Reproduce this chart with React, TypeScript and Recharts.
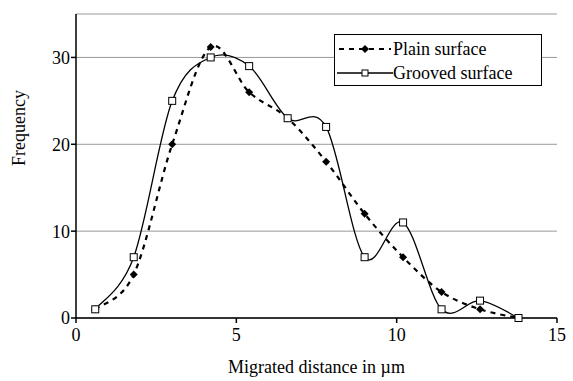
import { LineChart, Line, XAxis, YAxis, CartesianGrid } from 'recharts'

const distances = [0.6, 1.8, 3.0, 4.2, 5.4, 6.6, 7.8, 9.0, 10.2, 11.4, 12.6, 13.8]
const plainSurface = [1, 5, 20, 31.2, 26, 23, 18, 12, 7, 3, 1, 0]
const groovedSurface = [1, 7, 25, 30, 29, 23, 22, 7, 11, 1, 2, 0]
const xTicks = [0, 5, 10, 15]
const yTicks = [0, 10, 20, 30]

const data = distances.map((x, i) => ({ x, plain: plainSurface[i], grooved: groovedSurface[i] }))

const font = 'Liberation Serif, Times New Roman, DejaVu Serif, serif'

// excel-style smoothing (uniform catmull-rom)
// eslint-disable-next-line @typescript-eslint/no-explicit-any
const smooth = (ctx: any) => {
  let pts: [number, number][] = []
  return {
    areaStart() {},
    areaEnd() {},
    lineStart() { pts = [] },
    point(x: number, y: number) { pts.push([+x, +y]) },
    lineEnd() {
      const n = pts.length
      if (!n) return
      ctx.moveTo(pts[0][0], pts[0][1])
      for (let i = 0; i < n - 1; i++) {
        const p0 = pts[Math.max(i - 1, 0)]
        const p1 = pts[i]
        const p2 = pts[i + 1]
        const p3 = pts[Math.min(i + 2, n - 1)]
        ctx.bezierCurveTo(
          p1[0] + (p2[0] - p0[0]) / 6, p1[1] + (p2[1] - p0[1]) / 6,
          p2[0] - (p3[0] - p1[0]) / 6, p2[1] - (p3[1] - p1[1]) / 6,
          p2[0], p2[1],
        )
      }
    },
  }
}

// eslint-disable-next-line @typescript-eslint/no-explicit-any
const Diamond = (p: any) => {
  const { cx, cy } = p
  if (cx == null || cy == null) return <g key={p.key} />
  return <path key={p.key} d={`M${cx},${cy - 4}L${cx + 4},${cy}L${cx},${cy + 4}L${cx - 4},${cy}Z`} fill="#000" />
}

// eslint-disable-next-line @typescript-eslint/no-explicit-any
const Square = (p: any) => {
  const { cx, cy } = p
  if (cx == null || cy == null) return <g key={p.key} />
  return <rect key={p.key} x={cx - 3.5} y={cy - 3.5} width={7} height={7} fill="#fff" stroke="#000" strokeWidth={1} />
}

function LegendBox() {
  return (
    <div style={{
      position: 'absolute', left: 334, top: 34,
      border: '1px solid #000', background: '#fff', width: 208, height: 52,
      boxSizing: 'border-box', fontFamily: font, fontSize: 18, color: '#000', padding: '2px 0 0 2px',
    }}>
      <div style={{ display: 'flex', alignItems: 'center', height: 24 }}>
        <svg width={56} height={12}>
          <line x1={2} y1={6} x2={54} y2={6} stroke="#000" strokeWidth={2} strokeDasharray="5 5" />
          <path d="M28,2L32,6L28,10L24,6Z" fill="#000" />
        </svg>
        <span>Plain surface</span>
      </div>
      <div style={{ display: 'flex', alignItems: 'center', height: 24 }}>
        <svg width={56} height={12}>
          <line x1={0} y1={6} x2={56} y2={6} stroke="#000" strokeWidth={1.3} />
          <rect x={25} y={3} width={6} height={6} fill="#fff" stroke="#000" />
        </svg>
        <span>Grooved surface</span>
      </div>
    </div>
  )
}

export default function App() {
  return (
    <div style={{ position: 'absolute', left: 0, top: 0, background: '#fff', fontFamily: font }}>
      <LineChart width={573} height={381} data={data} margin={{ top: 14, right: 16, left: 0, bottom: 0 }}>
        <CartesianGrid horizontal vertical={false} stroke="#999" strokeWidth={1} />
        <XAxis
          dataKey="x" type="number" domain={[0, 15]} ticks={xTicks}
          height={63} stroke="#000" strokeWidth={1.5}
          tickSize={5} tickMargin={5} tick={{ fontSize: 18, fill: '#000', fontFamily: font }}
          label={{ value: 'Migrated distance in µm', position: 'insideBottom', offset: 8, fontSize: 18, fill: '#000', fontFamily: font }}
        />
        <YAxis
          type="number" domain={[0, 35]} ticks={yTicks}
          width={76} stroke="#000" strokeWidth={1.5}
          tickSize={5} tickMargin={1} tick={{ fontSize: 18, fill: '#000', fontFamily: font }}
          label={{ value: 'Frequency', angle: -90, position: 'insideLeft', offset: 19, fontSize: 18, fill: '#000', fontFamily: font }}
        />
        <Line
          dataKey="plain" name="Plain surface" type={smooth as never}
          stroke="#000" strokeWidth={2.2} strokeDasharray="5 5"
          dot={Diamond} activeDot={false} isAnimationActive={false}
        />
        <Line
          dataKey="grooved" name="Grooved surface" type={smooth as never}
          stroke="#000" strokeWidth={1.3}
          dot={Square} activeDot={false} isAnimationActive={false}
        />
      </LineChart>
      <LegendBox />
    </div>
  )
}
